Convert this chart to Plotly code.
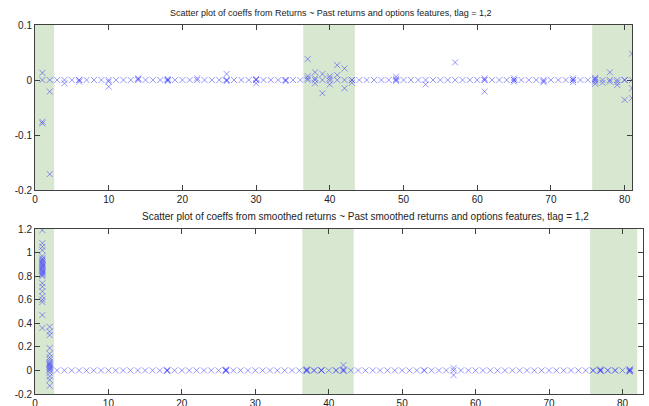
import plotly.graph_objects as go

# ---------------- data ----------------
# Top panel: coefficient index (x) and coefficient values (y)
top_groups = {
    1: [0.013, 0.0, -0.076, -0.079],
    2: [0.0, -0.021, -0.171],
    4: [0.0, -0.006],
    6: [0.0, -0.003, 0.0],
    10: [0.0, -0.003, -0.012],
    14: [0.0, 0.003, 0.002],
    18: [0.0, 0.002, -0.002, 0.0],
    22: [0.0, 0.003],
    26: [0.0, 0.011, -0.002, 0.0],
    30: [0.0, 0.002, -0.006, 0.0],
    34: [0.0, 0.0, -0.002],
    37: [0.038, 0.007, 0.003, 0.0],
    38: [0.014, 0.003, 0.0, -0.006],
    39: [0.011, 0.0, -0.024],
    40: [0.007, 0.003, -0.001, -0.008],
    41: [0.027, 0.009, 0.0],
    42: [0.021, 0.0, -0.015],
    43: [0.0, -0.005, 0.0],
    49: [0.006, 0.002, 0.0, -0.002],
    53: [0.0, -0.008],
    57: [0.032, 0.0],
    61: [0.003, 0.0, 0.0, -0.021],
    65: [0.003, 0.0, -0.003, 0.0],
    69: [0.0, -0.002, -0.004],
    73: [0.003, 0.0, 0.0, -0.004],
    76: [0.004, 0.002, 0.0, -0.003, -0.007],
    77: [0.0, -0.005],
    78: [0.014, 0.0, -0.003],
    79: [0.0, -0.004, -0.009],
    80: [0.0, 0.0, -0.036],
    81: [0.048, 0.0, -0.015, -0.033],
}
bottom_groups = {
    1: [1.19, 1.08, 1.05, 1.02, 0.97, 0.95, 0.94, 0.93, 0.92, 0.91, 0.90, 0.89,
        0.88, 0.87, 0.86, 0.85, 0.84, 0.83, 0.82, 0.81, 0.80, 0.74, 0.71, 0.67,
        0.63, 0.60, 0.58, 0.47, 0.36],
    2: [0.37, 0.33, 0.30, 0.19, 0.14, 0.11, 0.09, 0.07, 0.06, 0.05, 0.04, 0.03,
        0.02, 0.01, 0.0, -0.02, -0.05, -0.08, -0.13],
    18: [0.0, 0.005, -0.005],
    26: [0.0, 0.008, -0.005, 0.003],
    37: [0.0, 0.01, -0.005, 0.003],
    38: [0.0, 0.0],
    39: [0.0, 0.0, 0.003],
    41: [0.0, 0.0],
    42: [0.045, 0.01, 0.0, -0.005],
    53: [0.0, 0.0],
    57: [0.02, 0.0, -0.04],
    76: [0.0, 0.0],
    77: [0.0, 0.01, 0.0, -0.005],
    78: [0.0, 0.0],
    79: [0.0, 0.0],
    81: [0.01, 0.0, -0.01, 0.005, -0.005],
}
n_coef = 81
highlight_bands = [(0.0, 2.6), (36.4, 43.4), (75.6, 82.0)]
top_title = "Scatter plot of coeffs from Returns ~ Past returns and options features, tlag = 1,2"
bottom_title = "Scatter plot of coeffs from smoothed returns ~ Past smoothed returns and options features, tlag = 1,2"
x_ticks = [0, 10, 20, 30, 40, 50, 60, 70, 80]
top_yticks = [-0.2, -0.1, 0, 0.1]
top_ytext = ["-0.2", "-0.1", "0", "0.1"]
bot_yticks = [-0.2, 0, 0.2, 0.4, 0.6, 0.8, 1.0, 1.2]
bot_ytext = ["-0.2", "0", "0.2", "0.4", "0.6", "0.8", "1", "1.2"]


def expand(groups):
    xs, ys = [], []
    for i in range(1, n_coef + 1):
        vals = groups.get(i, [0.0])
        for v in vals:
            xs.append(i)
            ys.append(v)
    return xs, ys


top_x, top_y = expand(top_groups)
bot_x, bot_y = expand(bottom_groups)

W, H = 649, 406
FONT = "Liberation Sans Narrow, Arial Narrow, Liberation Sans, Arial, sans-serif"
marker = dict(symbol="x-thin-open", size=6, color="rgba(50,50,255,0.5)",
              line=dict(width=1, color="rgba(50,50,255,0.5)"))

fig = go.Figure()
fig.add_trace(go.Scatter(x=top_x, y=top_y, mode="markers", marker=marker,
                         xaxis="x", yaxis="y", showlegend=False))
fig.add_trace(go.Scatter(x=bot_x, y=bot_y, mode="markers", marker=marker,
                         xaxis="x2", yaxis="y2", showlegend=False))

shapes = []
for (a, b) in highlight_bands:
    for xr, yr in (("x", "y"), ("x2", "y2")):
        shapes.append(dict(type="rect", xref=xr, yref=yr + " domain", x0=a, x1=b,
                           y0=0, y1=1, fillcolor="#d8e7cf", line=dict(width=0),
                           layer="below"))

axis_common = dict(showgrid=False, zeroline=False, showline=True, linecolor="#404040",
                   linewidth=1, mirror="ticks", ticks="inside", ticklen=5,
                   tickcolor="#404040", automargin=False,
                   tickfont=dict(family=FONT, size=10, color="#222"))

fig.update_layout(
    template="none",
    width=W, height=H, margin=dict(l=0, r=0, t=0, b=0, pad=0),
    paper_bgcolor="white", plot_bgcolor="white",
    xaxis=dict(domain=[35 / W, 632 / W], range=[0, 81], tickvals=x_ticks,
               anchor="y", **axis_common),
    yaxis=dict(domain=[1 - 190 / H, 1 - 25 / H], range=[-0.2, 0.1],
               tickvals=top_yticks, ticktext=top_ytext, anchor="x", **axis_common),
    xaxis2=dict(domain=[35 / W, 643 / W], range=[0, 82.8], tickvals=x_ticks,
                anchor="y2", **axis_common),
    yaxis2=dict(domain=[1 - 394 / H, 1 - 229 / H], range=[-0.2, 1.2],
                tickvals=bot_yticks, ticktext=bot_ytext, anchor="x2", **axis_common),
    shapes=shapes,
    annotations=[
        dict(text=top_title, xref="paper", yref="paper", x=331 / W, y=1 - 13 / H,
             xanchor="center", yanchor="middle", showarrow=False,
             font=dict(family=FONT, size=9, color="#222")),
        dict(text=bottom_title, xref="paper", yref="paper", x=365 / W, y=1 - 216 / H,
             xanchor="center", yanchor="middle", showarrow=False,
             font=dict(family=FONT, size=10, color="#222")),
    ],
)

fig.write_html("out.html")
